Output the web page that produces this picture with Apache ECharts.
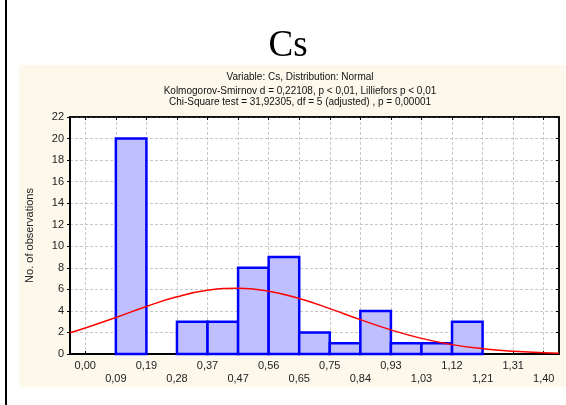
<!DOCTYPE html>
<html><head><meta charset="utf-8">
<script src="https://cdn.jsdelivr.net/npm/echarts@6/dist/echarts.min.js"></script>
<style>html,body{margin:0;padding:0;background:#fff}#c{width:566px;height:405px}</style>
</head><body><div id="c"></div>
<script>
// Tick labels along the x axis (bin edges)
var tickLabels = ['0,00','0,09','0,19','0,28','0,37','0,47','0,56','0,65','0,75','0,84','0,93','1,03','1,12','1,21','1,31','1,40'];
// Observed counts for bins between consecutive tick labels
var counts = [0,20,0,3,3,8,9,2,1,4,1,1,3,0,0];
// Fitted normal curve (x in tick-index units)
var curveX = [-0.5,0,1,2,3,4,5,6,7,8,9,10,11,12,13,14,15,15.5];
var curveY = [1.98,2.42,3.39,4.41,5.31,5.91,6.10,5.82,5.15,4.21,3.19,2.24,1.45,0.87,0.49,0.25,0.12,0.08];
var yTicks = {min:0, max:22, interval:2};
var titleText = 'Cs';
var subLines = ['Variable: Cs, Distribution: Normal','Kolmogorov-Smirnov d = 0,22108, p < 0,01, Lilliefors p < 0,01','Chi-Square test = 31,92305, df = 5 (adjusted) , p = 0,00001'];
var yName = 'No. of observations';

var barData = counts.map(function(c,i){return [i, i+1, c];}).filter(function(d){return d[2]>0;});
var lineData = curveX.map(function(x,i){return [x, curveY[i]];});

var chart = echarts.init(document.getElementById('c'), null, {renderer:'canvas'});
var F = '"Liberation Sans", Arial, sans-serif';
chart.setOption({
  animation:false,
  graphic:[
    {type:'rect', z:-10, shape:{x:19,y:65,width:547,height:322}, style:{fill:'#fdf8ec'}},
    {type:'rect', z:-10, shape:{x:5,y:0,width:2,height:405}, style:{fill:'#000'}},
    {type:'text', z:5, x:288, y:28, style:{text:titleText, font:'37px "Liberation Serif", "Times New Roman", serif', fill:'#000', textAlign:'center', textVerticalAlign:'top'}},
    {type:'text', z:5, x:300, y:72, style:{text:subLines[0], font:'10px '+F, fill:'#111', textAlign:'center'}},
    {type:'text', z:5, x:300, y:86, style:{text:subLines[1], font:'10px '+F, fill:'#111', textAlign:'center'}},
    {type:'text', z:5, x:300, y:97, style:{text:subLines[2], font:'10px '+F, fill:'#111', textAlign:'center'}}
  ],
  grid:{left:70, right:7, top:117, bottom:51, show:true, backgroundColor:'#fff', borderColor:'#000', borderWidth:1.5},
  xAxis:[
    {type:'value', min:-0.5, max:15.5, show:false},
    {type:'category', position:'bottom', data:tickLabels, boundaryGap:true,
      axisLine:{onZero:false, lineStyle:{color:'#000', width:2}},
      axisTick:{show:true, alignWithLabel:true, inside:true, length:3, lineStyle:{color:'#000'}},
      axisLabel:{interval:0, margin:5, color:'#222', fontSize:11, fontFamily:F, lineHeight:13,
        formatter:function(v,i){return (i%2)?'\n'+v:v;}},
      splitLine:{show:true, interval:0, alignWithLabel:true, lineStyle:{color:'#c8c8c8', type:[3,2], width:1}}},
    {type:'category', position:'top', data:tickLabels, boundaryGap:true,
      axisLine:{onZero:false, lineStyle:{color:'#000', width:1.5}},
      axisTick:{show:true, alignWithLabel:true, inside:true, length:3, interval:0, lineStyle:{color:'#000'}},
      axisLabel:{show:false}, splitLine:{show:false}}
  ],
  yAxis:[
    {type:'value', min:yTicks.min, max:yTicks.max, interval:yTicks.interval,
      name:yName, nameLocation:'middle', nameGap:35, nameTextStyle:{fontSize:11, fontFamily:F, color:'#222'},
      axisLine:{show:true, onZero:false, lineStyle:{color:'#000', width:2}},
      axisTick:{show:true, length:3, lineStyle:{color:'#000'}},
      axisLabel:{margin:6, color:'#222', fontSize:11, fontFamily:F},
      splitLine:{show:true, lineStyle:{color:'#c8c8c8', type:[3,2], width:1}}},
    {type:'value', position:'right', min:yTicks.min, max:yTicks.max, interval:yTicks.interval,
      axisLine:{show:true, onZero:false, lineStyle:{color:'#000', width:1.5}},
      axisTick:{show:true, inside:true, length:3, lineStyle:{color:'#000'}},
      axisLabel:{show:false}, splitLine:{show:false}}
  ],
  series:[
    {type:'custom', xAxisIndex:0, yAxisIndex:0, z:3, data:barData,
      renderItem:function(params, api){
        var p0 = api.coord([api.value(0), api.value(2)]);
        var p1 = api.coord([api.value(1), 0]);
        return {type:'rect', shape:{x:p0[0], y:p0[1], width:p1[0]-p0[0], height:p1[1]-p0[1]},
          style:{fill:'#bfbfff', stroke:'#0000ff', lineWidth:2.5}};
      }},
    {type:'line', xAxisIndex:0, yAxisIndex:0, z:4, data:lineData, smooth:true, showSymbol:false,
      lineStyle:{color:'#ff0000', width:1.5}}
  ]
});
</script></body></html>
